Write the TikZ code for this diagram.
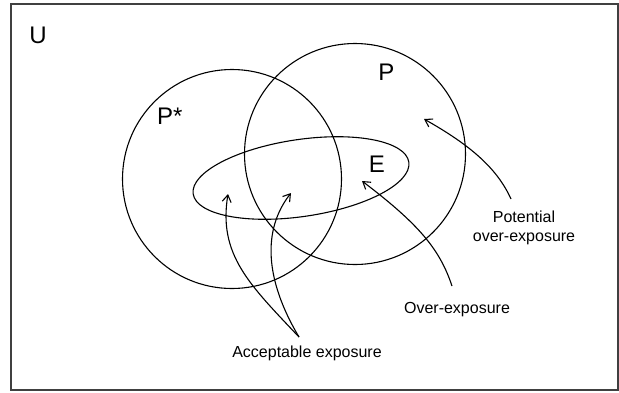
\documentclass[tikz,border=0pt]{standalone}
\usepackage{fontspec}
\setmainfont{Liberation Sans}
\usetikzlibrary{arrows.meta,shapes.geometric}
\begin{document}
\begin{tikzpicture}[x=1pt,y=-1pt,
  setshape/.style={draw=black, line width=1.1pt, inner sep=0pt, outer sep=0pt},
  big/.style={font=\fontsize{24}{28}\selectfont, inner sep=0pt, anchor=base},
  lbl/.style={font=\fontsize{16}{19}\selectfont, inner sep=0pt, anchor=base},
  pointer/.style={draw=black, line width=1.1pt, -{Straight Barb[length=7pt,width=9pt]}},
  framebox/.style={draw={rgb,255:red,64;green,64;blue,64}, line width=1.6pt, inner sep=0pt}]
\useasboundingbox (0,0) rectangle (619,392);
\node[framebox, minimum width=607pt, minimum height=386pt] (frameU) at (314.5,197) {};
\node[setshape, circle, minimum size=219pt] (setPs) at (232,179) {};
\node[setshape, circle, minimum size=221pt] (setP) at (355,154) {};
\node[setshape, ellipse, minimum width=218pt, minimum height=77pt, rotate=8.4] (setE) at (301,178) {};
\node[big] (lU) at (38,43) {U};
\node[big, anchor=base west] (lPs) at (157,124) {P*};
\node[big] (lP) at (386.5,80) {P};
\node[big] (lE) at (377,172.7) {E};
\node[lbl] (tAcc) at (307,357.5) {Acceptable exposure};
\node[lbl] (tOver) at (457,313) {Over-exposure};
\node[lbl] (tPot1) at (524,222.5) {Potential};
\node[lbl] (tPot2) at (524,241.5) {over-exposure};
\coordinate (potS) at (511,199);
\coordinate (potT) at (424,119);
\coordinate (overS) at (452,286);
\coordinate (overT) at (362,181);
\coordinate (accS) at (299,337);
\coordinate (accL) at (228,194);
\coordinate (accR) at (291,193);
\draw[pointer] (potS) .. controls (497,168) and (470,145) .. (potT);
\draw[pointer] (overS) .. controls (440,250) and (420,225) .. (overT);
\draw[pointer] (accS) .. controls (250,285) and (218,255) .. (accL);
\draw[pointer] (accS) .. controls (265,280) and (262,230) .. (accR);
\end{tikzpicture}
\end{document}
